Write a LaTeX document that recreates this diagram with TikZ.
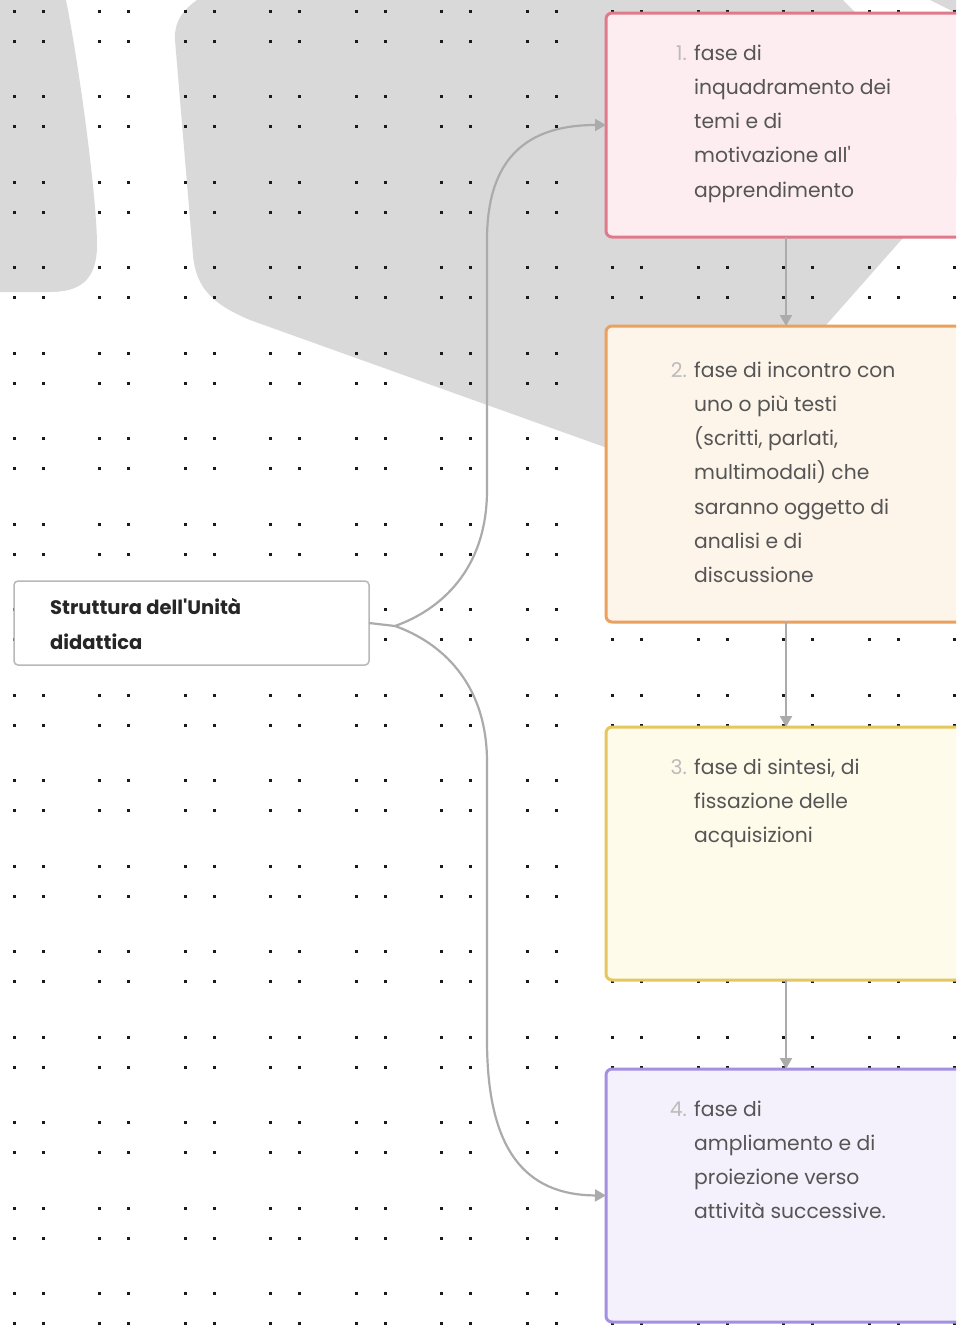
\documentclass[tikz,border=0pt]{standalone}
\usepackage{fontspec}
\newfontfamily\pfont{Poppins}
\usetikzlibrary{arrows.meta}
\definecolor{shapegray}{HTML}{D9D9D9}
\definecolor{conngray}{HTML}{ABABAB}
\definecolor{leftgray}{HTML}{B8B8B8}
\definecolor{txtgray}{HTML}{555555}
\definecolor{numgray}{HTML}{BBBBBB}
\definecolor{dotblack}{HTML}{1A1A1A}
\definecolor{bdA}{HTML}{E07A8B}
\definecolor{fiA}{HTML}{FDEDF0}
\definecolor{bdB}{HTML}{EBA05E}
\definecolor{fiB}{HTML}{FDF4EA}
\definecolor{bdC}{HTML}{E6C65E}
\definecolor{fiC}{HTML}{FEFBEA}
\definecolor{bdD}{HTML}{A390E0}
\definecolor{fiD}{HTML}{F4F1FC}
\tikzset{
  phasebox/.style={draw, line width=3pt, rounded corners=6pt, anchor=north west,
    inner sep=0pt, outer sep=0pt, minimum width=360pt},
  linetxt/.style={font=\pfont\fontsize{20.3}{24}\selectfont, text=txtgray, inner sep=0pt},
  numtxt/.style={font=\pfont\fontsize{20.3}{24}\selectfont, text=numgray, inner sep=0pt},
  lefttxt/.style={font=\pfont\bfseries\fontsize{19.5}{23}\selectfont, text=black!85, inner sep=0pt, anchor=base west},
  conn/.style={draw=conngray, line width=2.2pt, -{Triangle[length=11pt,width=12pt]}},
}
\newcommand\phaselines[4]{%
  \node[numtxt, anchor=base east] (#1n) at (687,#2) {#3};
  \foreach \ln [count=\i from 0] in {#4} {
    \node[linetxt, anchor=base west] (#1l\i) at (694,#2+34.3*\i) {\ln};
  }
}
\begin{document}
\begin{tikzpicture}[x=1pt,y=-1pt]
\useasboundingbox (0,0) rectangle (956,1325);
\clip (0,0) rectangle (956,1325);
\fill[white] (0,0) rectangle (956,1325);
% background shapes
\fill[shapegray] (0,0) -- (66,0) .. controls (80,70) and (97,200) .. (97,245)
  .. controls (97,280) and (80,292) .. (50,292) -- (0,292) -- cycle;
\fill[shapegray] (197,0) .. controls (180,12) and (174,25) .. (175,40) -- (193,255)
  .. controls (196,290) and (215,305) .. (250,320) -- (691,478) -- (985,145) -- (843,0) -- cycle;
\fill[shapegray] (930,0) -- (960,0) -- (960,15) -- cycle;
% dot grid
\foreach \cx in {0,...,11} {
  \foreach \cy in {0,...,15} {
    \foreach \dx in {14,43} {
      \foreach \dy in {11,41} {
        \fill[dotblack] ({\dx+85.5*\cx-1.5},{\dy+85.5*\cy-1.5}) rectangle ++(3,3);
      }
    }
  }
}
% left node
\node[draw=leftgray, line width=1.5pt, rounded corners=4pt, fill=white, anchor=north west,
  minimum width=355pt, minimum height=84pt, inner sep=0pt, outer sep=0pt] (L) at (14,581) {};
\node[lefttxt] (Lt1) at (50,614) {Struttura dell'Unità};
\node[lefttxt] (Lt2) at (50,649) {didattica};
% phase boxes
\node[phasebox, draw=bdA, fill=fiA, minimum height=224pt] (b1) at (606,13) {};
\node[phasebox, draw=bdB, fill=fiB, minimum height=296pt] (b2) at (606,326) {};
\node[phasebox, draw=bdC, fill=fiC, minimum height=253pt] (b3) at (606,727) {};
\node[phasebox, draw=bdD, fill=fiD, minimum height=253pt] (b4) at (606,1069) {};
\phaselines{t1}{60}{1.}{fase di,inquadramento dei,temi e di,motivazione all',apprendimento}
\phaselines{t2}{377}{2.}{fase di incontro con,uno o più testi,{(scritti, parlati,},multimodali) che,saranno oggetto di,analisi e di,discussione}
\phaselines{t3}{774}{3.}{{fase di sintesi, di},fissazione delle,acquisizioni}
\phaselines{t4}{1116}{4.}{fase di,ampliamento e di,proiezione verso,attività successive.}
% connectors
\coordinate (split) at (395,626);
\draw[draw=conngray, line width=2.2pt] (L.east) -- (split);
\draw[conn] (split) .. controls (440,610) and (487,570) .. (487,490) -- (487,240)
  .. controls (487,160) and (525,125) .. (b1.west);
\draw[conn] (split) .. controls (440,642) and (487,682) .. (487,762) -- (487,1040)
  .. controls (487,1150) and (525,1195) .. (b4.west);
\draw[conn] (b1.south) -- (b2.north);
\draw[conn] (b2.south) -- (b3.north);
\draw[conn] (b3.south) -- (b4.north);
\end{tikzpicture}
\end{document}
